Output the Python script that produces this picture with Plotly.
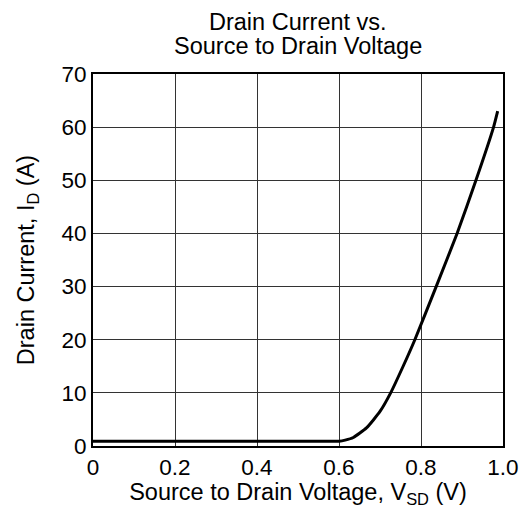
import plotly.graph_objects as go

# Data
vsd = [0.0, 0.3, 0.55, 0.600, 0.615, 0.635, 0.667, 0.700, 0.726, 0.757, 0.785, 0.837, 0.888, 0.934, 0.977, 0.987]
id_a = [0.9, 0.9, 0.9, 0.9, 1.1, 1.6, 3.4, 6.5, 10.0, 15.1, 20.0, 30.0, 40.0, 50.0, 60.0, 63.0]

x_ticks = [0, 0.2, 0.4, 0.6, 0.8, 1.0]
x_ticktext = ["0", "0.2", "0.4", "0.6", "0.8", "1.0"]
y_ticks = [0, 10, 20, 30, 40, 50, 60, 70]

title_lines = ["Drain Current vs.", "Source to Drain Voltage"]
x_title = "Source to Drain Voltage, V<sub>SD</sub> (V)"
y_title = "Drain Current, I<sub>D</sub> (A)"

font_family = "Liberation Sans, Arial, sans-serif"

fig = go.Figure()
fig.add_trace(go.Scatter(
    x=vsd, y=id_a, mode="lines",
    line=dict(color="black", width=3, shape="spline", smoothing=0.5),
    showlegend=False, hoverinfo="skip",
))

title_shifts = [52, 28]
fig.update_layout(
    width=531, height=508,
    margin=dict(l=93, r=26, t=74, b=60),
    paper_bgcolor="white", plot_bgcolor="white",
    font=dict(family=font_family, size=22, color="black"),
    annotations=[dict(
        text=t, xref="paper", yref="paper", x=0.5, y=1,
        xanchor="center", yanchor="middle", yshift=s, showarrow=False,
        font=dict(family=font_family, size=23.5, color="black"),
    ) for t, s in zip(title_lines, title_shifts)],
)

fig.update_xaxes(
    range=[0, 1.0], tickvals=x_ticks, ticktext=x_ticktext,
    showgrid=True, gridcolor="#333", gridwidth=1,
    showline=True, linecolor="black", linewidth=2, mirror=True,
    ticks="", zeroline=False,
    tickfont=dict(size=22.5),
    title=dict(text=x_title, font=dict(size=23.5), standoff=0),
)
fig.update_yaxes(
    range=[0, 70], tickvals=y_ticks,
    showgrid=True, gridcolor="#333", gridwidth=1,
    showline=True, linecolor="black", linewidth=2, mirror=True,
    ticks="", zeroline=False,
    tickfont=dict(size=22.5),
    title=dict(text=y_title, font=dict(size=23.5), standoff=20),
)

fig.write_html(
    "out.html",
    config={"displayModeBar": False},
    post_script="document.body.style.margin='0';document.body.style.overflow='hidden';",
)
